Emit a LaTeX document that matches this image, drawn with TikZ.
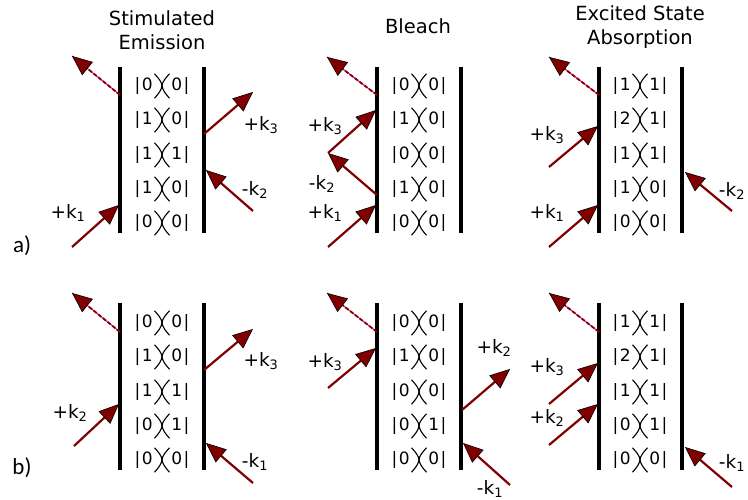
\documentclass[tikz,border=0pt]{standalone}
\usepackage{fontspec}
\setmainfont{DejaVu Sans}
\newfontfamily\lblfont{Carlito}
\usepackage{xcolor}
\usetikzlibrary{arrows.meta}
\definecolor{beamred}{RGB}{128,0,0}
\newcommand{\brpair}{\tikz[baseline=0pt, x=1pt, y=1pt, line width=1.1pt]{%
  \draw (1,17) .. controls (5.5,12) and (8,9) .. (8.5,5) .. controls (8,1) and (5.5,-2.5) .. (1,-7.5);
  \draw (16,17) .. controls (11.5,12) and (9,9) .. (8.5,5) .. controls (9,1) and (11.5,-2.5) .. (16,-7.5);}}
\newcommand{\kbra}[2]{|\kern1.6pt#1\kern1.2pt\brpair\kern1.2pt#2\kern1.6pt|}
\newcommand{\wv}[2]{#1k\textsubscript{#2}}

\begin{document}
\begin{tikzpicture}[
  x=1pt, y=-1pt,
  >={Triangle[length=20pt,width=17pt,fill=beamred,color=black,line width=0.6pt]},
  every node/.style={font=\fontsize{18.5}{24}\selectfont, inner sep=0pt},
  bar/.style={line width=3.8pt},
  beam/.style={->, beamred, line width=2.2pt},
  signal/.style={->, beamred, line width=1.8pt, dash pattern=on 4pt off 2pt,
    preaction={draw=magenta, line width=1pt, -}},
  ket/.style={anchor=center, font=\fontsize{17}{20}\selectfont},
  title/.style={align=center, font=\fontsize{19.5}{24}\selectfont}
]
\useasboundingbox (0,0) rectangle (748,500);

\node (lbla) at (22,246) {\lblfont\fontsize{23}{26}\selectfont a)};
\node (lblb) at (22,468) {\lblfont\fontsize{23}{26}\selectfont b)};

\node[title] (titleSE) at (162,30) {Stimulated\\Emission};
\node[title] (titleB) at (418,26) {Bleach};
\node[title] (titleESA) at (640,27) {Excited State\\Absorption};

\draw[bar] (120,67) -- (120,233);
\draw[bar] (204,67) -- (204,233);
\draw[bar] (377,67) -- (377,233);
\draw[bar] (461,67) -- (461,233);
\draw[bar] (599,67) -- (599,233);
\draw[bar] (682,67) -- (682,233);
\draw[bar] (120,303) -- (120,470);
\draw[bar] (204,303) -- (204,470);
\draw[bar] (377,303) -- (377,470);
\draw[bar] (461,303) -- (461,470);
\draw[bar] (599,303) -- (599,470);
\draw[bar] (682,303) -- (682,470);

\foreach \l/\r/\y [count=\i] in {0/0/86,1/0/120,1/1/155,1/0/189,0/0/223}
  \node[ket] (seA\i) at (162,\y) {\kbra{\l}{\r}};
\foreach \l/\r/\y [count=\i] in {0/0/86,1/0/120,0/0/155,1/0/189,0/0/223}
  \node[ket] (blA\i) at (419,\y) {\kbra{\l}{\r}};
\foreach \l/\r/\y [count=\i] in {1/1/86,2/1/120,1/1/155,1/0/189,0/0/223}
  \node[ket] (esaA\i) at (640,\y) {\kbra{\l}{\r}};
\foreach \l/\r/\y [count=\i] in {0/0/323,1/0/357,1/1/392,0/1/426,0/0/460}
  \node[ket] (seB\i) at (162,\y) {\kbra{\l}{\r}};
\foreach \l/\r/\y [count=\i] in {0/0/323,1/0/357,0/0/392,0/1/426,0/0/460}
  \node[ket] (blB\i) at (419,\y) {\kbra{\l}{\r}};
\foreach \l/\r/\y [count=\i] in {1/1/323,2/1/357,1/1/392,0/1/426,0/0/460}
  \node[ket] (esaB\i) at (640,\y) {\kbra{\l}{\r}};

% a) stimulated emission
\coordinate (seAs0) at (120,95);   \coordinate (seAs1) at (72,56);
\coordinate (seAk10) at (72,247);  \coordinate (seAk11) at (119,205);
\coordinate (seAk30) at (204,134); \coordinate (seAk31) at (253,92);
\coordinate (seAk20) at (253,211); \coordinate (seAk21) at (206,170);
\draw[signal] (seAs0) -- (seAs1);
\draw[beam] (seAk10) -- (seAk11);
\draw[beam] (seAk30) -- (seAk31);
\draw[beam] (seAk20) -- (seAk21);
\node (seAl1) at (68,213) {\wv{+}{1}};
\node (seAl3) at (261,125) {\wv{+}{3}};
\node (seAl2) at (255,190) {\wv{-}{2}};

% a) bleach
\coordinate (blAs0) at (377,95);   \coordinate (blAs1) at (327,57);
\coordinate (blAk10) at (328,247); \coordinate (blAk11) at (376,205);
\coordinate (blAk20) at (377,195); \coordinate (blAk21) at (328,153);
\coordinate (blAk31) at (376,110);
\draw[signal] (blAs0) -- (blAs1);
\draw[beam] (blAk10) -- (blAk11);
\draw[beam] (blAk20) -- (blAk21);
\draw[beam] (blAk21) -- (blAk31);
\node (blAl3) at (325,126) {\wv{+}{3}};
\node (blAl2) at (322,184) {\wv{-}{2}};
\node (blAl1) at (325,213) {\wv{+}{1}};

% a) excited state absorption
\coordinate (esaAs0) at (599,95);   \coordinate (esaAs1) at (549,57);
\coordinate (esaAk30) at (549,167); \coordinate (esaAk31) at (598,126);
\coordinate (esaAk10) at (549,247); \coordinate (esaAk11) at (598,205);
\coordinate (esaAk20) at (732,211); \coordinate (esaAk21) at (685,172);
\draw[signal] (esaAs0) -- (esaAs1);
\draw[beam] (esaAk30) -- (esaAk31);
\draw[beam] (esaAk10) -- (esaAk11);
\draw[beam] (esaAk20) -- (esaAk21);
\node (esaAl3) at (547,135) {\wv{+}{3}};
\node (esaAl1) at (547,213) {\wv{+}{1}};
\node (esaAl2) at (732,191) {\wv{-}{2}};

% b) stimulated emission
\coordinate (seBs0) at (120,332);  \coordinate (seBs1) at (72,293);
\coordinate (seBk20) at (74,446);  \coordinate (seBk21) at (119,404);
\coordinate (seBk30) at (204,370); \coordinate (seBk31) at (253,329);
\coordinate (seBk10) at (253,483); \coordinate (seBk11) at (206,443);
\draw[signal] (seBs0) -- (seBs1);
\draw[beam] (seBk20) -- (seBk21);
\draw[beam] (seBk30) -- (seBk31);
\draw[beam] (seBk10) -- (seBk11);
\node (seBl2) at (70,413) {\wv{+}{2}};
\node (seBl3) at (261,361) {\wv{+}{3}};
\node (seBl1) at (255,462) {\wv{-}{1}};

% b) bleach
\coordinate (blBs0) at (377,332);  \coordinate (blBs1) at (327,293);
\coordinate (blBk30) at (328,388); \coordinate (blBk31) at (376,348);
\coordinate (blBk20) at (462,410); \coordinate (blBk21) at (510,369);
\coordinate (blBk10) at (510,485); \coordinate (blBk11) at (463,443);
\draw[signal] (blBs0) -- (blBs1);
\draw[beam] (blBk30) -- (blBk31);
\draw[beam] (blBk20) -- (blBk21);
\draw[beam] (blBk10) -- (blBk11);
\node (blBl3) at (325,362) {\wv{+}{3}};
\node (blBl2) at (494,348) {\wv{+}{2}};
\node (blBl1) at (490,489) {\wv{-}{1}};

% b) excited state absorption
\coordinate (esaBs0) at (599,332);  \coordinate (esaBs1) at (549,293);
\coordinate (esaBk30) at (549,404); \coordinate (esaBk31) at (598,363);
\coordinate (esaBk20) at (549,445); \coordinate (esaBk21) at (598,404);
\coordinate (esaBk10) at (732,487); \coordinate (esaBk11) at (685,447);
\draw[signal] (esaBs0) -- (esaBs1);
\draw[beam] (esaBk30) -- (esaBk31);
\draw[beam] (esaBk20) -- (esaBk21);
\draw[beam] (esaBk10) -- (esaBk11);
\node (esaBl3) at (547,367) {\wv{+}{3}};
\node (esaBl2) at (547,418) {\wv{+}{2}};
\node (esaBl1) at (732,463) {\wv{-}{1}};
\end{tikzpicture}
\end{document}
